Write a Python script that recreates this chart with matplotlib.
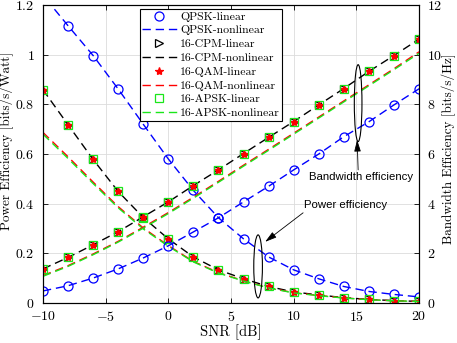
import matplotlib
matplotlib.use("Agg")
import matplotlib.pyplot as plt
from matplotlib.patches import Ellipse
from matplotlib.ticker import FuncFormatter, MultipleLocator

plt.rcParams["font.family"] = "serif"
plt.rcParams["font.serif"] = ["cmr10"]
plt.rcParams["mathtext.fontset"] = "cm"
plt.rcParams["axes.unicode_minus"] = True

snr = [-10, -8, -6, -4, -2, 0, 2, 4, 6, 8, 10, 12, 14, 16, 18, 20]

# power efficiency [bits/s/Watt], left axis
qpsk_pe = [1.24, 1.117, 0.997, 0.862, 0.72, 0.58, 0.453, 0.343,
           0.258, 0.185, 0.133, 0.097, 0.066, 0.046, 0.034, 0.024]
m16_pe = [0.859, 0.718, 0.578, 0.449, 0.344, 0.258, 0.185, 0.133,
          0.097, 0.066, 0.044, 0.032, 0.021, 0.014, 0.009, 0.006]
qam_nl_pe = [0.687, 0.589, 0.487, 0.388, 0.302, 0.231, 0.167, 0.122,
             0.089, 0.061, 0.041, 0.030, 0.020, 0.013, 0.0085, 0.0057]
apsk_nl_pe = [0.680, 0.582, 0.481, 0.383, 0.298, 0.228, 0.165, 0.120,
              0.088, 0.060, 0.040, 0.029, 0.0195, 0.0128, 0.0083, 0.0056]

# bandwidth efficiency [bits/s/Hz], right axis
qpsk_be = [0.48, 0.69, 1.0, 1.37, 1.81, 2.3, 2.86, 3.43,
           4.07, 4.7, 5.36, 6.0, 6.7, 7.3, 7.98, 8.63]
m16_be = [1.37, 1.83, 2.34, 2.87, 3.47, 4.07, 4.73, 5.36,
          6.02, 6.67, 7.31, 7.98, 8.64, 9.33, 9.97, 10.63]
qam_nl_be = [1.10, 1.50, 1.97, 2.48, 3.05, 3.64, 4.26, 4.90,
             5.55, 6.19, 6.84, 7.49, 8.14, 8.79, 9.44, 10.12]
apsk_nl_be = [1.07, 1.47, 1.94, 2.45, 3.01, 3.60, 4.22, 4.86,
              5.51, 6.15, 6.80, 7.45, 8.10, 8.75, 9.40, 10.06]

blue = (0, 0, 1)
green = (0.1, 0.9, 0.1)
dash = (0, (6, 3.5))

fig = plt.figure(figsize=(4.57, 3.43), dpi=100)
ax1 = fig.add_axes([0.094, 0.117, 0.823, 0.868])
ax2 = ax1.twinx()

handles = []
for ax, q, m, qa, ap in [(ax1, qpsk_pe, m16_pe, qam_nl_pe, apsk_nl_pe),
                         (ax2, qpsk_be, m16_be, qam_nl_be, apsk_nl_be)]:
    h = []
    h += ax.plot(snr, q, "o", color=blue, mfc="none", ms=6.5, mew=0.9,
                 label="QPSK-linear")
    h += ax.plot(snr, q, color=blue, ls=dash, lw=1.0, label="QPSK-nonlinear")
    h += ax.plot(snr, m, ">", color="k", mfc="none", ms=5.5, mew=0.9,
                 label="16-CPM-linear")
    h += ax.plot(snr, m, color="k", ls=dash, lw=1.0, label="16-CPM-nonlinear")
    h += ax.plot(snr, m, "*", color="r", ms=6, mew=0.9, label="16-QAM-linear")
    h += ax.plot(snr, qa, color="r", ls=dash, lw=1.0, label="16-QAM-nonlinear")
    h += ax.plot(snr, m, "s", color=green, mfc="none", ms=5.5, mew=0.9,
                 label="16-APSK-linear")
    h += ax.plot(snr, ap, color=green, ls=dash, lw=1.0,
                 label="16-APSK-nonlinear")
    handles = h

fmt = FuncFormatter(lambda v, p: r"$\mathdefault{%g}$" % round(v, 6))

ax1.set_xlim(-10, 20)
ax1.set_ylim(0, 1.2)
ax2.set_ylim(0, 12)
ax1.xaxis.set_major_locator(MultipleLocator(5))
ax1.yaxis.set_major_locator(MultipleLocator(0.2))
ax2.yaxis.set_major_locator(MultipleLocator(2))
for ax in (ax1, ax2):
    ax.xaxis.set_major_formatter(fmt)
    ax.yaxis.set_major_formatter(fmt)
    for s in ax.spines.values():
        s.set_linewidth(0.8)
ax1.tick_params(direction="in", top=True, right=False, length=3.5,
                width=0.6, labelsize=10)
ax1.tick_params(axis="x", pad=5)
ax1.tick_params(axis="y", pad=6)
ax2.tick_params(direction="in", length=3.5, width=0.6, labelsize=10, pad=6)
ax1.grid(True, color="#dcdcdc", lw=0.6)
ax1.set_axisbelow(True)

ax1.set_xlabel("SNR [dB]", fontsize=10.5)
ax1.set_ylabel("Power Efficiency [bits/s/Watt]", fontsize=9.5)
ax2.set_ylabel("Bandwidth Efficiency [bits/s/Hz]", fontsize=9.5)
ax1.xaxis.set_label_coords(0.499, -0.073)
ax1.yaxis.set_label_coords(-0.077, 0.544)
ax2.yaxis.set_label_coords(1.06, 0.517)

# annotations (right-axis units)
ax2.add_patch(Ellipse((15.14, 8.05), 0.61, 3.1, fill=False, lw=0.8,
                      ec="k", zorder=5))
ax2.add_patch(Ellipse((7.16, 1.47), 0.69, 2.54, fill=False, lw=0.8,
                      ec="k", zorder=5))
arrow = dict(arrowstyle="-|>,head_length=0.7,head_width=0.2", color="k",
             lw=0.6, shrinkA=0, shrinkB=0)
ax2.annotate("", xy=(15.06, 6.57), xytext=(15.14, 5.36), arrowprops=arrow)
ax2.annotate("", xy=(7.72, 2.46), xytext=(10.75, 3.63), arrowprops=arrow)
ax2.text(15.38, 5.08, "Bandwidth efficiency", family="Liberation Sans",
         fontsize=8.2, ha="center", va="center")
ax2.text(14.1, 3.95, "Power efficiency", family="Liberation Sans",
         fontsize=8.2, ha="center", va="center")

leg = ax2.legend(handles=handles, loc="upper left",
                 bbox_to_anchor=(0.258, 0.987), fontsize=8.5,
                 handlelength=2.9, handletextpad=0.3, labelspacing=0.3,
                 borderpad=0.2, borderaxespad=0, fancybox=False,
                 framealpha=1, edgecolor="k")
leg.get_frame().set_linewidth(0.8)

fig.savefig("out.png", dpi=100)
